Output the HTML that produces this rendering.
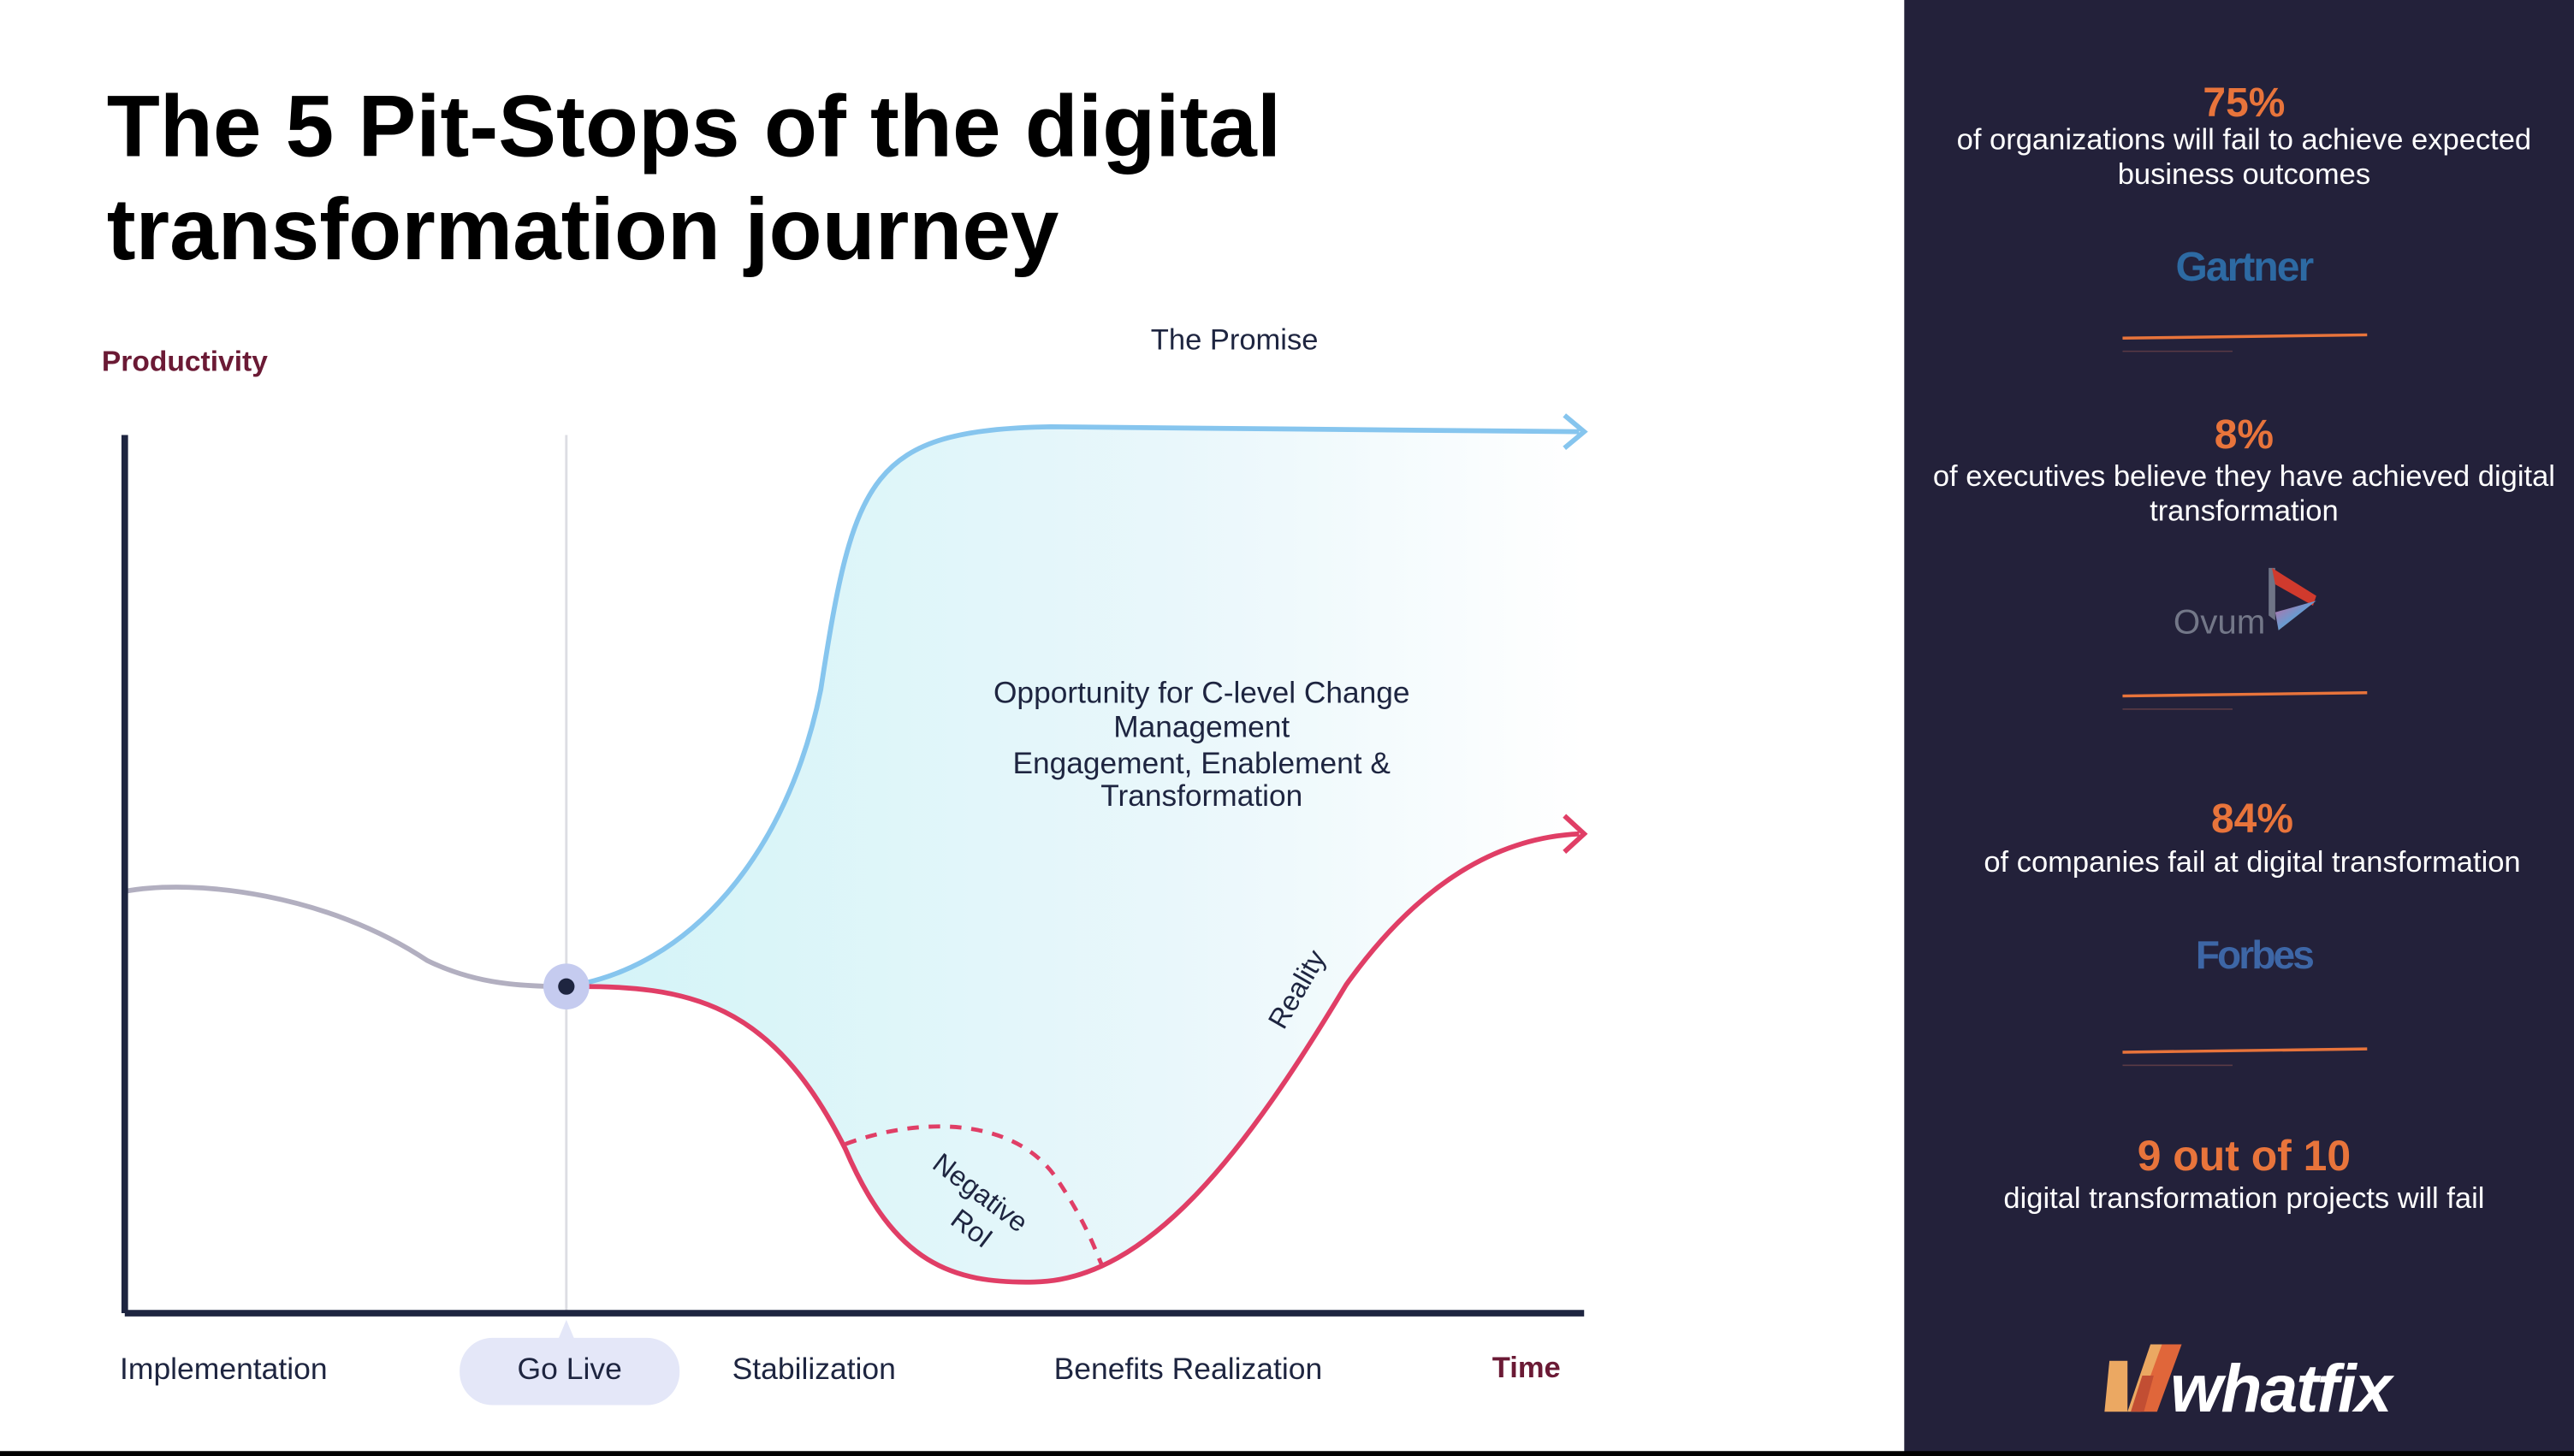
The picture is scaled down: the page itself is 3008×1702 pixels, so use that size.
<!DOCTYPE html>
<html><head><meta charset="utf-8"><style>
html,body{margin:0;padding:0;background:#fff}
svg{display:block}
text{font-family:"Liberation Sans",sans-serif}
</style></head><body>
<svg width="3008" height="1702" viewBox="0 0 1568 887" preserveAspectRatio="none" xmlns="http://www.w3.org/2000/svg">
<defs>
<linearGradient id="fg" x1="345" y1="0" x2="965" y2="0" gradientUnits="userSpaceOnUse">
<stop offset="0" stop-color="#d3f4f7"/><stop offset="0.6" stop-color="#e9f7fb"/><stop offset="1" stop-color="#ffffff"/>
</linearGradient>
<linearGradient id="ov" x1="0" x2="1" y1="0" y2="1"><stop offset="0" stop-color="#c46aa0"/><stop offset="0.5" stop-color="#6a9ad0"/><stop offset="1" stop-color="#e0a050"/></linearGradient>
</defs>
<rect width="1568" height="887" fill="#fff"/>
<rect x="1160" y="0" width="408" height="887" fill="#23213a"/>
<rect x="0" y="884" width="1568" height="3" fill="#000"/>

<text x="65" y="95" font-size="53" font-weight="bold" fill="#000">The 5 Pit-Stops of the digital</text>
<text x="65" y="158" font-size="53" font-weight="bold" fill="#000">transformation journey</text>
<text x="62" y="226" font-size="17.5" font-weight="bold" fill="#6b1a35">Productivity</text>
<text x="752" y="213" font-size="18" fill="#1e2540" text-anchor="middle">The Promise</text>

<path d="M345,601 C420,590 480,520 500,420 C520,290 530,262 640,260 L965,263 L965,508 C920,510 870,530 820,600 C760,700 700,780 630,781 C580,782 545,770 515,700 C470,610 420,600 345,601 Z" fill="url(#fg)"/>

<line x1="345" y1="265" x2="345" y2="800" stroke="#dcdde3" stroke-width="1.5"/>
<path d="M76,543 C120,535 200,545 260,585 C290,600 320,601 345,601" fill="none" stroke="#b2afc0" stroke-width="3"/>
<path d="M345,601 C420,590 480,520 500,420 C520,290 530,262 640,260 L962,263" fill="none" stroke="#86c5ee" stroke-width="3"/>
<path d="M953,253 L965,263 L953,273" fill="none" stroke="#86c5ee" stroke-width="3"/>
<path d="M345,601 C420,600 470,610 515,700 C545,770 580,782 630,781 C700,780 760,700 820,600 C870,530 920,510 962,508" fill="none" stroke="#e03e66" stroke-width="3"/>
<path d="M953,497 L965,508 L953,519" fill="none" stroke="#e03e66" stroke-width="3"/>
<path d="M515,697 C560,680 620,680 645,720 C665,750 670,770 672,772" fill="none" stroke="#e03e66" stroke-width="2.5" stroke-dasharray="7,6"/>

<line x1="76" y1="265" x2="76" y2="800" stroke="#1e2540" stroke-width="4"/>
<line x1="76" y1="800" x2="965" y2="800" stroke="#1e2540" stroke-width="4"/>
<circle cx="345" cy="601" r="14" fill="#c5cbef"/>
<circle cx="345" cy="601" r="5" fill="#1e2540"/>

<g font-size="18.4" fill="#1e2540" text-anchor="middle">
<text x="732" y="428">Opportunity for C-level Change</text>
<text x="732" y="449">Management</text>
<text x="732" y="471">Engagement, Enablement &amp;</text>
<text x="732" y="491">Transformation</text>
</g>
<text x="0" y="0" font-size="17" fill="#1e2540" transform="translate(782,628) rotate(-60)">Reality</text>
<text x="0" y="0" font-size="17" fill="#1e2540" transform="translate(567,711) rotate(37)">Negative</text>
<text x="0" y="0" font-size="17" fill="#1e2540" transform="translate(578,745) rotate(37)">RoI</text>

<path d="M340,816 L345,804 L350,816 Z" fill="#e4e7f8"/>
<rect x="280" y="815" width="134" height="41" rx="20" fill="#e4e7f8"/>
<g font-size="18.5" fill="#1e2540">
<text x="73" y="840">Implementation</text>
<text x="347" y="840" text-anchor="middle">Go Live</text>
<text x="446" y="840">Stabilization</text>
<text x="642" y="840">Benefits Realization</text>
</g>
<text x="909" y="839" font-size="18" font-weight="bold" fill="#6b1a35">Time</text>

<g text-anchor="middle">
<text x="1367" y="71" font-size="25" font-weight="bold" fill="#e8743b">75%</text>
<text x="1367" y="91" font-size="18" fill="#fff">of organizations will fail to achieve expected</text>
<text x="1367" y="112" font-size="18" fill="#fff">business outcomes</text>
<text x="1367" y="171" font-size="25" font-weight="bold" fill="#2d6aa3" letter-spacing="-1">Gartner</text>
<text x="1367" y="273" font-size="25" font-weight="bold" fill="#e8743b">8%</text>
<text x="1367" y="296" font-size="18" fill="#fff">of executives believe they have achieved digital</text>
<text x="1367" y="317" font-size="18" fill="#fff">transformation</text>
<text x="1352" y="386" font-size="21" fill="#737788">Ovum</text>
<text x="1372" y="507" font-size="25" font-weight="bold" fill="#e8743b">84%</text>
<text x="1372" y="531" font-size="18" fill="#fff">of companies fail at digital transformation</text>
<text x="1373" y="590" font-size="24" font-weight="bold" fill="#3d66a6" font-family="Liberation Serif, serif" letter-spacing="-1.5">Forbes</text>
<text x="1367" y="713" font-size="26" font-weight="bold" fill="#e8743b">9 out of 10</text>
<text x="1367" y="736" font-size="18" fill="#fff">digital transformation projects will fail</text>
</g>
<polygon points="1382,346 1386,346 1386,378 1382,375" fill="#6f7486"/>
<polygon points="1384,346 1411,363 1409,369 1386,356" fill="#d03a2d"/>
<polygon points="1386,373 1411,366 1388,384" fill="url(#ov)"/>
<line x1="1293" y1="206" x2="1442" y2="204" stroke="#e8743b" stroke-width="1.8"/>
<line x1="1293" y1="214" x2="1360" y2="214" stroke="#5a3a45" stroke-width="0.8"/>
<line x1="1293" y1="424" x2="1442" y2="422" stroke="#e8743b" stroke-width="1.8"/>
<line x1="1293" y1="432" x2="1360" y2="432" stroke="#5a3a45" stroke-width="0.8"/>
<line x1="1293" y1="641" x2="1442" y2="639" stroke="#e8743b" stroke-width="1.8"/>
<line x1="1293" y1="649" x2="1360" y2="649" stroke="#5a3a45" stroke-width="0.8"/>
<polygon points="1282,860 1285,829 1296,829 1296,860" fill="#eba862"/>
<polygon points="1296,860 1310,819 1318,819 1304,860" fill="#eba862"/>
<polygon points="1302,860 1317,819 1329,819 1314,860" fill="#e0663a"/>
<polygon points="1298,860 1305,838 1312,838 1306,860" fill="#c24e33"/>
<text x="1322" y="860" font-size="41" font-weight="bold" font-style="italic" fill="#fff" letter-spacing="-1">whatfix</text>
</svg>
</body></html>
